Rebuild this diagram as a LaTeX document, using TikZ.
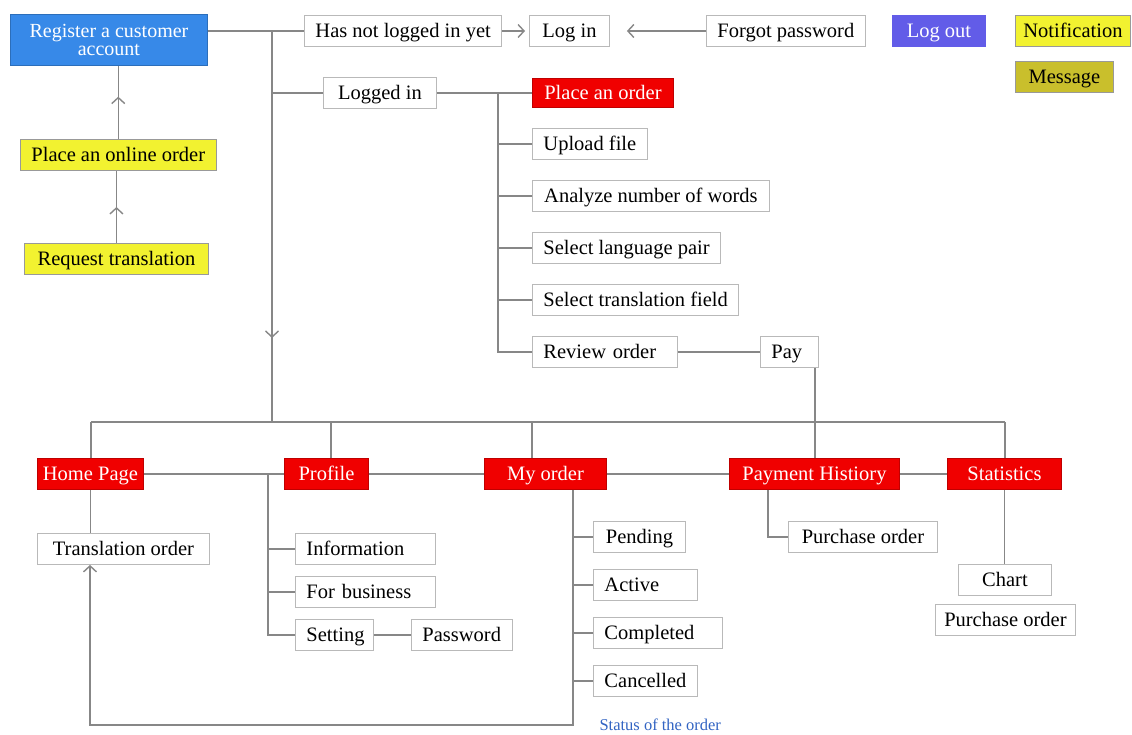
\documentclass[tikz,border=0pt]{standalone}
\usepackage{fontspec}
\setmainfont{Liberation Serif}
\usetikzlibrary{arrows.meta,decorations.markings}

\definecolor{regblue}{RGB}{55,137,232}
\definecolor{logoutblue}{RGB}{98,92,232}
\definecolor{noteyellow}{RGB}{242,242,48}
\definecolor{msgolive}{RGB}{201,191,44}
\definecolor{orderred}{RGB}{240,0,0}
\definecolor{linegray}{RGB}{135,135,135}
\definecolor{boxgray}{RGB}{185,185,185}
\definecolor{statusblue}{RGB}{50,100,195}

\tikzset{
  box/.style={draw=boxgray, fill=white, line width=0.9pt, anchor=west,
    minimum height=31pt, inner xsep=11pt, inner ysep=2pt,
    text height=15pt, text depth=3pt,
    font=\fontsize{20.5}{21}\selectfont},
  redbox/.style={box, fill=orderred, draw=red!75!black, text=white, inner xsep=5pt},
  yelbox/.style={box, fill=noteyellow, draw=gray!80},
  link/.style={draw=linegray, line width=1.4pt},
  openarrow/.style={-{Straight Barb[length=6pt,width=13pt]}},
  midarrow/.style={postaction={decorate}, decoration={markings,
    mark=at position #1 with {\arrow{Straight Barb[length=6pt,width=13pt]}}}},
}

\begin{document}
\begin{tikzpicture}[x=1pt,y=-1pt]
  \path[fill=white, use as bounding box] (0,0) rectangle (1132,734);

  % top row
  \node[box, fill=regblue, draw=regblue!80!black, text=white, align=center,
    text height={}, text depth={}, inner ysep=0pt,
    font=\fontsize{20}{18}\selectfont, minimum width=197pt, minimum height=51pt]
    (reg) at (10,40) {Register a customer\\account};
  \node[box, minimum width=190pt] (notyet) at (304,31) {Has not logged in yet};
  \node[box, minimum width=80pt] (login) at (529,31) {Log in};
  \node[box, minimum width=156pt] (forgot) at (706,31) {Forgot password};
  \node[box, fill=logoutblue, draw=logoutblue, text=white, minimum width=93pt] (logout) at (892,31) {Log out};
  \node[yelbox, minimum width=115pt, inner xsep=6pt] (notif) at (1015,31) {Notification};
  \node[box, fill=msgolive, draw=gray!80, minimum width=98pt] (msg) at (1015,77) {Message};

  % left column
  \node[yelbox, minimum width=195pt] (online) at (20,155) {Place an online order};
  \node[yelbox, minimum width=184pt] (request) at (24,259) {Request translation};

  % ordering steps
  \node[box, minimum width=113pt] (loggedin) at (323,93) {Logged in};
  \node[redbox, minimum width=141pt, minimum height=29pt] (order) at (532,93) {Place an order};
  \node[box, minimum width=113pt] (upload) at (532,144) {Upload file};
  \node[box, minimum width=237pt] (analyze) at (532,196) {Analyze number of words};
  \node[box, minimum width=188pt] (langpair) at (532,248) {Select language pair};
  \node[box, minimum width=206pt] (field) at (532,300) {Select translation field};
  \node[box, text width=123pt, align=left] (review) at (532,352) {Review order};
  \node[box, text width=36pt, align=left] (pay) at (760,352) {Pay};

  % main menu
  \node[redbox, minimum width=106pt] (home) at (37,474) {Home Page};
  \node[redbox, minimum width=84pt] (profile) at (284,474) {Profile};
  \node[redbox, minimum width=122pt] (myorder) at (484,474) {My order};
  \node[redbox, minimum width=170pt] (payhist) at (729,474) {Payment Histiory};
  \node[redbox, minimum width=114pt] (stats) at (947,474) {Statistics};

  % sub items
  \node[box, minimum width=172pt] (transl) at (37,549) {Translation order};
  \node[box, text width=118pt, align=left] (info) at (295,549) {Information};
  \node[box, text width=118pt, align=left] (business) at (295,592) {For business};
  \node[box, text width=56pt, align=left] (setting) at (295,635) {Setting};
  \node[box, minimum width=100pt] (password) at (411,635) {Password};
  \node[box, minimum width=92pt] (pending) at (593,537) {Pending};
  \node[box, text width=82pt, align=left] (active) at (593,585) {Active};
  \node[box, text width=107pt, align=left] (completed) at (593,633) {Completed};
  \node[box, minimum width=104pt] (cancelled) at (593,681) {Cancelled};
  \node[box, minimum width=149pt] (purch1) at (788,537) {Purchase order};
  \node[box, minimum width=93pt] (chart) at (958,580) {Chart};
  \node[box, minimum width=140pt, inner xsep=8pt] (purch2) at (935,620) {Purchase order};
  \node[anchor=west, text=statusblue, font=\fontsize{16.5}{17}\selectfont] (status) at (596,725) {Status of the order};

  % joints
  \coordinate (trunk) at (272,31);
  \coordinate (b1) at (91,422);
  \coordinate (b2) at (331,422);
  \coordinate (b3) at (532,422);
  \coordinate (b4) at (815,422);
  \coordinate (b5) at (1005,422);
  \coordinate (ospine) at (498,93);
  \coordinate (pspine) at (268,474);
  \coordinate (mloop) at (573,725);
  \coordinate (hloop) at (90,725);
  \coordinate (pcorner) at (768,537);

  % top links
  \draw[link] (reg.east |- notyet.west) -- (notyet.west);
  \draw[link, midarrow=0.785] (trunk) -- (trunk |- b1);
  \draw[link] (trunk |- loggedin.west) -- (loggedin.west);
  \draw[link, openarrow, shorten >=4pt] (notyet.east) -- (login.west);
  \draw[link, openarrow, shorten >=17pt] (forgot.west) -- (login.east);
  \draw[link, midarrow=0.5] (request.north) -- (request.north |- online.south);
  \draw[link, midarrow=0.58] (online.north) -- (online.north |- reg.south);

  % order steps
  \draw[link] (loggedin.east) -- (order.west);
  \draw[link] (ospine) -- (ospine |- review.west) -- (review.west);
  \foreach \s in {upload,analyze,langpair,field}
    \draw[link] (ospine |- \s.west) -- (\s.west);
  \draw[link] (review.east) -- (pay.west);
  \draw[link] (pay.south -| b4) -- (b4 |- payhist.north);

  % bus
  \draw[link] (b1) -- (b5);
  \draw[link] (b1) -- (b1 |- home.north);
  \draw[link] (b2) -- (b2 |- profile.north);
  \draw[link] (b3) -- (b3 |- myorder.north);
  \draw[link] (b5) -- (b5 |- stats.north);
  \draw[link] (home.east) -- (profile.west);
  \draw[link] (profile.east) -- (myorder.west);
  \draw[link] (myorder.east) -- (payhist.west);
  \draw[link] (payhist.east) -- (stats.west);

  % sub links
  \draw[link] (home.south) -- (home.south |- transl.north);
  \draw[link] (pspine) -- (pspine |- setting.west) -- (setting.west);
  \draw[link] (pspine |- info.west) -- (info.west);
  \draw[link] (pspine |- business.west) -- (business.west);
  \draw[link] (setting.east) -- (password.west);
  \draw[link, openarrow] (myorder.south -| mloop) -- (mloop) -- (hloop) -- (hloop |- transl.south);
  \foreach \s in {pending,active,completed,cancelled}
    \draw[link] (mloop |- \s.west) -- (\s.west);
  \draw[link] (pcorner |- payhist.south) -- (pcorner) -- (purch1.west);
  \draw[link] (stats.south) -- (stats.south |- chart.north);
\end{tikzpicture}
\end{document}
